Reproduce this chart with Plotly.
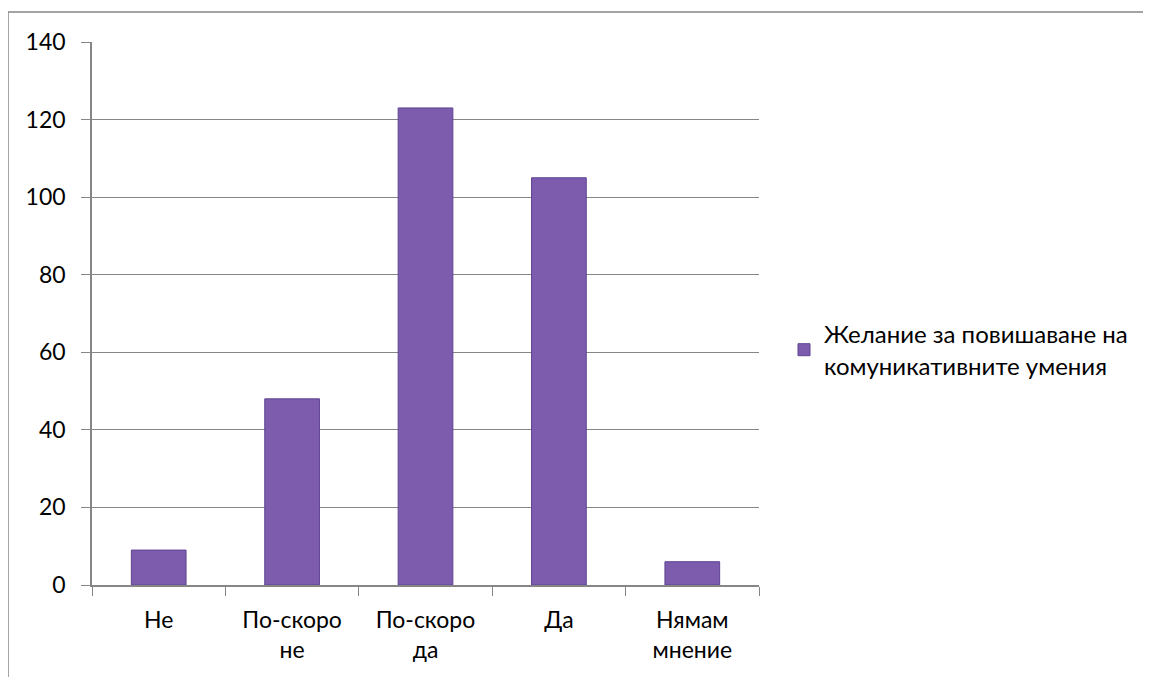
import plotly.graph_objects as go

categories = ["Не", "По-скоро<br>не", "По-скоро<br>да", "Да", "Нямам<br>мнение"]
values = [9, 48, 123, 105, 6]
series_name = "Желание за повишаване на<br>комуникативните умения"
y_ticks = [0, 20, 40, 60, 80, 100, 120, 140]

OFF = 8  # page offset of the rendered figure
W, H = 1151 - OFF, 677 - OFF
L, T = 92 - OFF, 42 - OFF
R = W - (759 - OFF)
B = H - (585 - OFF)
pw = W - L - R
ph = H - T - B

fig = go.Figure()
fig.add_trace(go.Bar(
    x=categories, y=values, name=series_name,
    marker=dict(color="#7D5CAE", line=dict(color="#5E4390", width=1)),
    showlegend=True,
))

def px2x(px):
    return (px - OFF - L) / pw

def px2y(py):
    return (H - B - (py - OFF)) / ph

fig.update_layout(
    width=W, height=H,
    margin=dict(l=L, r=R, t=T, b=B, autoexpand=False),
    paper_bgcolor="white", plot_bgcolor="white",
    font=dict(family="Lato, Liberation Sans, sans-serif", size=23, color="#000"),
    bargap=0.59,
    showlegend=True,
    legend=dict(xref="container", yref="container",
                x=776 / W, xanchor="left", y=1 - 342 / H, yanchor="middle",
                font=dict(size=24), itemwidth=30, tracegroupgap=0,
                bgcolor="rgba(0,0,0,0)"),
    xaxis=dict(showline=True, linecolor="#868686", linewidth=1.5,
               ticks="outside", tickson="boundaries", ticklen=9, tickcolor="#868686",
               showgrid=False, ticklabelstandoff=14),
    yaxis=dict(range=[0, 140], tickvals=y_ticks, showline=True, linecolor="#868686",
               linewidth=1.5, ticks="outside", ticklen=9, tickcolor="#868686",
               showgrid=True, gridcolor="#868686", gridwidth=1, zeroline=False,
               ticklabelstandoff=11),
    shapes=[dict(type="rect", xref="paper", yref="paper",
                 x0=px2x(8), x1=px2x(1150), y0=px2y(700), y1=px2y(12),
                 line=dict(color="#868686", width=1.5), fillcolor="rgba(0,0,0,0)", layer="below")],
)

fig.write_html("out.html")
